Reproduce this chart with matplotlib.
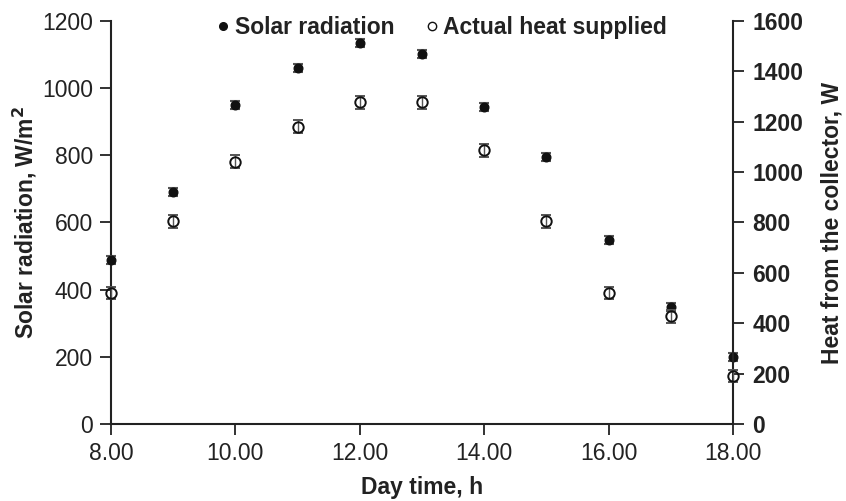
import numpy as np
import matplotlib.pyplot as plt

plt.rcParams['font.family'] = ['Liberation Sans', 'DejaVu Sans']

# hourly measurements
hours = [8, 9, 10, 11, 12, 13, 14, 15, 16, 17, 18]
solar = [488, 690, 950, 1060, 1133, 1101, 944, 795, 548, 349, 200]
solar_err = [12, 12, 12, 12, 12, 12, 12, 12, 12, 12, 12]
heat = [520, 804, 1041, 1180, 1277, 1277, 1086, 804, 520, 427, 190]
heat_err = [25, 25, 25, 25, 25, 25, 25, 25, 25, 25, 25]

xticks = [8, 10, 12, 14, 16, 18]
xticklabels = ['8.00', '10.00', '12.00', '14.00', '16.00', '18.00']

FS = 16.5

fig = plt.figure(figsize=(8.46, 5.01), dpi=100)
ax = fig.add_axes([0.1312, 0.1537, 0.7352, 0.8045])
ax2 = ax.twinx()

eb_kw = dict(ls='none', ecolor='#555555', elinewidth=1, capsize=3.5,
             capthick=1.5, clip_on=False, zorder=5)
s1 = ax.errorbar(hours, solar, yerr=solar_err, fmt='o', ms=6.2, mfc='#111111',
                 mec='#111111', label='Solar radiation', **eb_kw)
s2 = ax2.errorbar(hours, heat, yerr=heat_err, fmt='o', ms=7.5, mfc='none',
                  mec='#111111', mew=1.4, label='Actual heat supplied', **eb_kw)
for bars in (s1, s2):
    for artist in bars.lines[1] + bars.lines[2]:
        artist.set_clip_on(False)

ax.set_xlim(8, 18)
ax.set_ylim(0, 1200)
ax2.set_ylim(0, 1600)
ax.set_xticks(xticks)
ax.set_xticklabels(xticklabels)
ax.set_yticks(np.arange(0, 1201, 200))
ax2.set_yticks(np.arange(0, 1601, 200))

for a in (ax, ax2):
    a.spines['top'].set_visible(False)
    for sp in a.spines.values():
        sp.set_linewidth(1.5)
        sp.set_color('#222222')
ax.spines['right'].set_visible(False)
ax2.spines['left'].set_visible(False)
ax2.spines['bottom'].set_visible(False)

ax.tick_params(axis='both', direction='out', length=8, width=1.3,
               labelsize=FS, colors='#222222', pad=5)
ax2.tick_params(axis='y', direction='out', length=8, width=1.3,
                labelsize=FS, colors='#222222', pad=6)
for lab in ax2.get_yticklabels():
    lab.set_fontweight('bold')

ax.set_xlabel('Day time, h', fontsize=FS, fontweight='bold', labelpad=8)
ax.set_ylabel('Solar radiation, W/m$^\\mathbf{2}$', fontsize=FS,
              fontweight='bold', labelpad=2, color='#222222')
ax2.set_ylabel('Heat from the collector, W', fontsize=FS,
               fontweight='bold', labelpad=12, color='#222222')
ax.xaxis.label.set_color('#222222')

h1 = plt.Line2D([], [], ls='none', marker='o', ms=5.5, mfc='#111111', mec='#111111')
h2 = plt.Line2D([], [], ls='none', marker='o', ms=6, mfc='white', mec='#111111')
leg = fig.legend([h1, h2], ['Solar radiation', 'Actual heat supplied'],
                 loc='center', bbox_to_anchor=(0.52, 0.945), ncol=2,
                 frameon=False, prop={'weight': 'bold', 'size': FS},
                 handletextpad=0.05, columnspacing=1.2, handlelength=0.9)
for t in leg.get_texts():
    t.set_color('#222222')

fig.savefig('out.png', dpi=100)
